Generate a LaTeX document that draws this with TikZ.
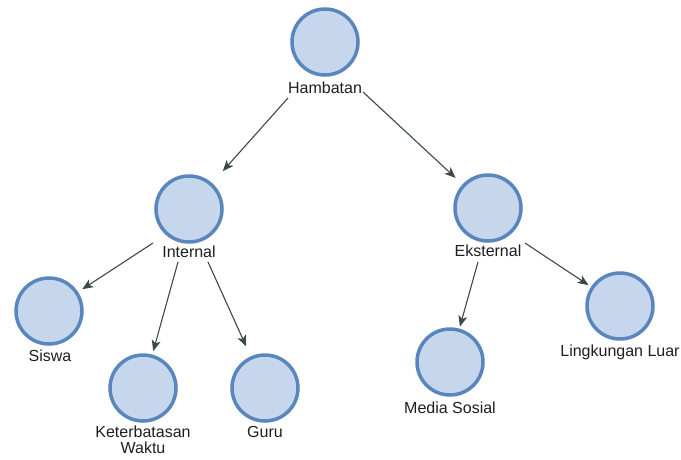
\documentclass[tikz,border=0pt]{standalone}
\usepackage{fontspec}
\setmainfont{Liberation Sans}
\usetikzlibrary{arrows.meta}
\definecolor{ringblue}{HTML}{5A86BE}
\definecolor{discfill}{HTML}{C6D6EC}
\definecolor{linkgray}{HTML}{3B4A44}
\definecolor{inkdark}{HTML}{1E1E1E}
\begin{document}
\begin{tikzpicture}[x=1pt,y=-1pt,
  topic/.style={circle,draw=ringblue,fill=discfill,line width=3.5pt,
    minimum size=66pt,inner sep=0pt,outer sep=1.75pt},
  caption/.style={inner sep=0pt,font=\fontsize{16}{15.5}\selectfont,
    align=center,text=inkdark},
  link/.style={draw=linkgray,line width=1.1pt,
    -{Stealth[length=11pt,width=9pt,inset=3pt]}}]
\useasboundingbox (0,0) rectangle (681,459);

% circles
\node[topic] (h) at (325,42) {};
\node[topic] (i) at (189,209) {};
\node[topic] (e) at (488,208) {};
\node[topic] (s) at (49,311) {};
\node[topic] (k) at (143,388) {};
\node[topic] (g) at (265,388) {};
\node[topic] (m) at (450,362) {};
\node[topic] (l) at (620,306) {};

% captions
\node[caption] (hL) at (325,88) {Hambatan};
\node[caption] (iL) at (189,252) {Internal};
\node[caption] (eL) at (488,251) {Eksternal};
\node[caption] (sL) at (50,356) {Siswa};
\node[caption] (kL) at (143,440) {Keterbatasan\\Waktu};
\node[caption] (gL) at (265,432) {Guru};
\node[caption] (mL) at (450,408) {Media Sosial};
\node[caption] (lL) at (620,352) {Lingkungan Luar};

% links
\draw[link,shorten >=16pt] ([shift={(-37,10)}]hL.center) -- (i);
\draw[link,shorten >=9.5pt] ([shift={(38,4)}]hL.center) -- (e);
\draw[link,shorten >=5pt] ([shift={(-36,-9)}]iL.center) -- (s);
\draw[link,shorten >=3.5pt] ([shift={(-11,10)}]iL.center) -- (k);
\draw[link,shorten >=11pt] ([shift={(19,10)}]iL.center) -- (g);
\draw[link,shorten >=2pt] ([shift={(-10,11)}]eL.center) -- (m);
\draw[link,shorten >=3pt] ([shift={(37,-8)}]eL.center) -- (l);
\end{tikzpicture}
\end{document}
